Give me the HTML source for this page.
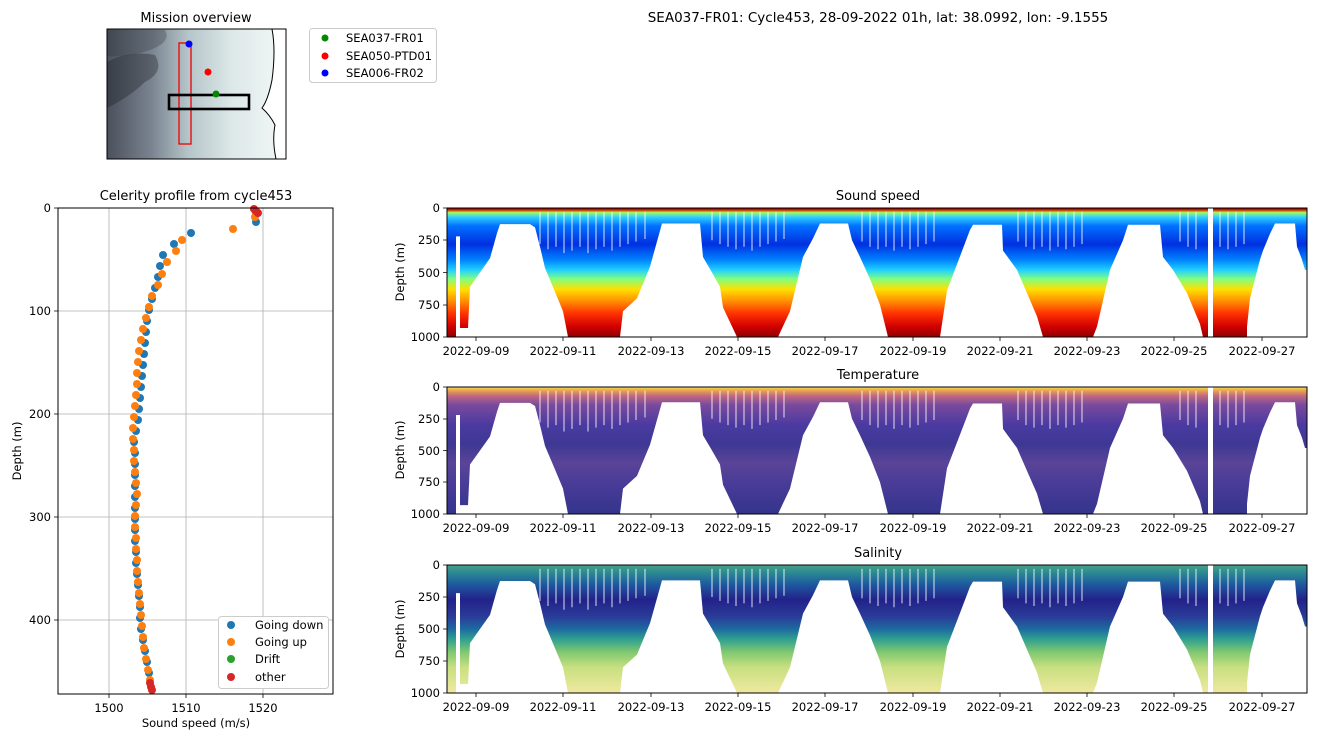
<!DOCTYPE html>
<html><head><meta charset="utf-8"><style>
html,body{margin:0;padding:0;background:#fff}
svg{display:block}
text{font-family:"DejaVu Sans","Liberation Sans",sans-serif;fill:#000}
</style></head><body>
<svg width="1320" height="742" viewBox="0 0 1320 742" xmlns="http://www.w3.org/2000/svg">
<defs>
<linearGradient id="gs" x1="0" y1="0" x2="0" y2="1">
<stop offset="0" stop-color="#7f0000"/><stop offset="0.015" stop-color="#d02000"/><stop offset="0.035" stop-color="#a0ff60"/><stop offset="0.07" stop-color="#30d0ff"/><stop offset="0.14" stop-color="#0070ff"/><stop offset="0.28" stop-color="#0030e0"/><stop offset="0.4" stop-color="#0080ff"/><stop offset="0.48" stop-color="#20d0ff"/><stop offset="0.55" stop-color="#80ff80"/><stop offset="0.63" stop-color="#ffe000"/><stop offset="0.72" stop-color="#ff9000"/><stop offset="0.82" stop-color="#ff3000"/><stop offset="0.92" stop-color="#d00000"/><stop offset="1" stop-color="#900000"/>
</linearGradient>
<linearGradient id="gt" x1="0" y1="0" x2="0" y2="1">
<stop offset="0" stop-color="#f0e050"/><stop offset="0.03" stop-color="#e8a050"/><stop offset="0.07" stop-color="#c06880"/><stop offset="0.14" stop-color="#7a4a9e"/><stop offset="0.3" stop-color="#4a3aa0"/><stop offset="0.45" stop-color="#3e3894"/><stop offset="0.6" stop-color="#5a4498"/><stop offset="0.75" stop-color="#4a3c98"/><stop offset="1" stop-color="#34348c"/>
</linearGradient>
<linearGradient id="gh" x1="0" y1="0" x2="0" y2="1">
<stop offset="0" stop-color="#48a088"/><stop offset="0.06" stop-color="#2a8a92"/><stop offset="0.15" stop-color="#1e5aa0"/><stop offset="0.27" stop-color="#22228a"/><stop offset="0.4" stop-color="#2a3a98"/><stop offset="0.5" stop-color="#1e6aa0"/><stop offset="0.58" stop-color="#30a090"/><stop offset="0.68" stop-color="#80c870"/><stop offset="0.8" stop-color="#c8e080"/><stop offset="1" stop-color="#f0e8a0"/>
</linearGradient>
<linearGradient id="gm" x1="0" y1="0" x2="1" y2="0">
<stop offset="0" stop-color="#4a505c"/><stop offset="0.25" stop-color="#7a8490"/><stop offset="0.45" stop-color="#b4c4c8"/><stop offset="0.7" stop-color="#dde8e8"/><stop offset="1" stop-color="#f4f8f8"/>
</linearGradient>
<g id="mask">
<polygon fill="#fff" points="447,1000 456,1000 456,220 460,220 460,930 468,930 470,610 480,500 490,390 497,195 500,125 530,125 535,150 540,300 545,465 555,650 563,800 568,1000 620,1000 623,800 637,700 650,455 662,120 700,120 703,380 712,500 720,610 723,770 737,1000 778,1000 790,800 803,380 813,235 820,120 848,120 852,250 860,380 870,550 880,750 888,1000 940,1000 947,640 960,375 970,170 973,130 1002,130 1003,330 1017,480 1027,660 1037,840 1043,1000 1093,1000 1097,920 1110,480 1123,250 1128,130 1160,130 1163,380 1173,480 1187,660 1200,900 1203,1000 1208,1000 1208,0 1213,0 1213,1000 1247,1000 1247,920 1250,700 1260,400 1263,330 1270,200 1275,120 1295,120 1297,300 1302,400 1305,480 1307,480 1307,1001 447,1001"/>
<g stroke="#fff" stroke-width="1.4" opacity="0.6">
<path d="M540 30V280M548 30V320M556 30V300M564 30V350M572 30V330M580 30V300M588 30V350M596 30V320M604 30V300M612 30V330M620 30V300M628 30V280M636 30V260M645 30V240M712 30V250M720 30V280M728 30V300M736 30V320M744 30V300M752 30V330M760 30V300M768 30V280M776 30V260M784 30V240M862 30V260M870 30V300M878 30V320M886 30V300M894 30V330M902 30V300M910 30V320M918 30V300M926 30V280M934 30V260M1018 30V260M1026 30V300M1034 30V320M1042 30V300M1050 30V330M1058 30V300M1066 30V320M1074 30V300M1082 30V280M1180 30V260M1188 30V300M1196 30V320M1220 30V300M1228 30V320M1236 30V300M1244 30V280"/>
</g>
</g>
</defs>

<text x="878" y="22" font-size="13.5" text-anchor="middle">SEA037-FR01: Cycle453, 28-09-2022 01h, lat: 38.0992, lon: -9.1555</text>

<text x="196" y="22" font-size="13" text-anchor="middle">Mission overview</text>
<rect x="107" y="29" width="179" height="130" fill="url(#gm)"/>
<path d="M107 62 Q130 50 155 55 Q165 72 145 82 Q128 98 107 108Z" fill="#1a1c22" opacity="0.35"/>
<path d="M107 30 L165 30 Q172 42 150 50 Q125 58 107 56Z" fill="#30343c" opacity="0.3"/>
<path d="M272 29 Q276 50 272 80 Q268 100 262 108 Q270 115 275 125 Q272 140 276 159 L286 159 L286 29Z" fill="#fff" stroke="#000" stroke-width="1"/>
<rect x="107" y="29" width="179" height="130" fill="none" stroke="#000" stroke-width="1"/>
<rect x="179" y="43" width="12" height="101" fill="none" stroke="#e00" stroke-width="1.3"/>
<rect x="169" y="95" width="80" height="14" fill="none" stroke="#000" stroke-width="2.6"/>
<circle cx="189" cy="44" r="3.5" fill="#00f"/><circle cx="208" cy="72" r="3.5" fill="#f00"/><circle cx="216" cy="94" r="3.5" fill="#080"/>
<rect x="309.5" y="28.5" width="127" height="54" rx="3" fill="#fff" stroke="#ccc"/>
<circle cx="325" cy="38" r="3.5" fill="#080"/><text x="346" y="42" font-size="11.5">SEA037-FR01</text>
<circle cx="325" cy="56" r="3.5" fill="#f00"/><text x="346" y="60" font-size="11.5">SEA050-PTD01</text>
<circle cx="325" cy="73" r="3.5" fill="#00f"/><text x="346" y="77" font-size="11.5">SEA006-FR02</text>

<text x="196" y="200" font-size="13" text-anchor="middle">Celerity profile from cycle453</text>
<g stroke="#b0b0b0" stroke-width="0.8">
<path d="M109 208V694M186 208V694M263 208V694M58 311H333M58 414H333M58 517H333M58 620H333"/>
</g>
<g fill="#1f77b4">
<circle cx="256" cy="212" r="4"/><circle cx="256" cy="222" r="4"/><circle cx="191" cy="233" r="4"/><circle cx="174" cy="244" r="4"/><circle cx="163" cy="255" r="4"/><circle cx="160" cy="266" r="4"/><circle cx="158" cy="277" r="4"/><circle cx="155" cy="288" r="4"/><circle cx="152" cy="299" r="4"/><circle cx="149" cy="310" r="4"/><circle cx="147" cy="321" r="4"/><circle cx="146" cy="332" r="4"/><circle cx="145" cy="343" r="4"/><circle cx="144" cy="354" r="4"/><circle cx="143" cy="365" r="4"/><circle cx="142" cy="376" r="4"/><circle cx="141" cy="387" r="4"/><circle cx="140" cy="398" r="4"/><circle cx="139" cy="409" r="4"/><circle cx="138" cy="420" r="4"/><circle cx="136" cy="431" r="4"/><circle cx="134" cy="442" r="4"/><circle cx="135" cy="453" r="4"/><circle cx="135" cy="464" r="4"/><circle cx="135" cy="475" r="4"/><circle cx="135" cy="486" r="4"/><circle cx="135" cy="497" r="4"/><circle cx="135" cy="508" r="4"/><circle cx="135" cy="519" r="4"/><circle cx="135" cy="530" r="4"/><circle cx="135" cy="541" r="4"/><circle cx="136" cy="552" r="4"/><circle cx="136" cy="563" r="4"/><circle cx="137" cy="574" r="4"/><circle cx="138" cy="585" r="4"/><circle cx="139" cy="596" r="4"/><circle cx="140" cy="607" r="4"/><circle cx="140" cy="618" r="4"/><circle cx="141" cy="629" r="4"/><circle cx="143" cy="640" r="4"/><circle cx="145" cy="651" r="4"/><circle cx="147" cy="662" r="4"/><circle cx="149" cy="673" r="4"/>
</g>
<g fill="#ff7f0e">
<circle cx="255" cy="217" r="4"/><circle cx="233" cy="229" r="4"/><circle cx="182" cy="240" r="4"/><circle cx="176" cy="251" r="4"/><circle cx="167" cy="262" r="4"/><circle cx="162" cy="274" r="4"/><circle cx="158" cy="285" r="4"/><circle cx="152" cy="296" r="4"/><circle cx="149" cy="307" r="4"/><circle cx="146" cy="318" r="4"/><circle cx="143" cy="329" r="4"/><circle cx="141" cy="340" r="4"/><circle cx="139" cy="351" r="4"/><circle cx="138" cy="362" r="4"/><circle cx="137" cy="373" r="4"/><circle cx="137" cy="384" r="4"/><circle cx="136" cy="395" r="4"/><circle cx="135" cy="406" r="4"/><circle cx="134" cy="417" r="4"/><circle cx="133" cy="428" r="4"/><circle cx="133" cy="439" r="4"/><circle cx="134" cy="450" r="4"/><circle cx="134" cy="461" r="4"/><circle cx="135" cy="472" r="4"/><circle cx="136" cy="483" r="4"/><circle cx="137" cy="494" r="4"/><circle cx="136" cy="505" r="4"/><circle cx="135" cy="516" r="4"/><circle cx="135" cy="527" r="4"/><circle cx="136" cy="538" r="4"/><circle cx="136" cy="549" r="4"/><circle cx="137" cy="560" r="4"/><circle cx="137" cy="571" r="4"/><circle cx="138" cy="582" r="4"/><circle cx="139" cy="593" r="4"/><circle cx="140" cy="604" r="4"/><circle cx="141" cy="615" r="4"/><circle cx="142" cy="626" r="4"/><circle cx="143" cy="637" r="4"/><circle cx="144" cy="648" r="4"/><circle cx="146" cy="659" r="4"/><circle cx="148" cy="670" r="4"/><circle cx="150" cy="680" r="4"/>
</g>
<g fill="#d62728">
<circle cx="254" cy="209" r="4"/><circle cx="256" cy="211" r="4"/><circle cx="258" cy="213" r="4"/><circle cx="150" cy="683" r="4"/><circle cx="151" cy="687" r="4"/><circle cx="152" cy="690" r="4"/>
</g>
<rect x="58" y="208" width="275" height="486" fill="none" stroke="#000" stroke-width="1"/>
<g stroke="#000" stroke-width="0.8"><path d="M109 694v4M186 694v4M263 694v4M58 208h-4M58 311h-4M58 414h-4M58 517h-4M58 620h-4"/></g>
<g font-size="11.5" text-anchor="middle"><text x="109" y="712">1500</text><text x="186" y="712">1510</text><text x="263" y="712">1520</text></g>
<g font-size="11.5" text-anchor="end"><text x="51" y="212">0</text><text x="51" y="315">100</text><text x="51" y="418">200</text><text x="51" y="521">300</text><text x="51" y="624">400</text></g>
<text x="196" y="727" font-size="11.5" text-anchor="middle">Sound speed (m/s)</text>
<text transform="translate(21,451) rotate(-90)" font-size="11.5" text-anchor="middle">Depth (m)</text>
<rect x="218.5" y="616.5" width="110" height="72" rx="3" fill="#fff" stroke="#ccc"/>
<circle cx="231" cy="625" r="4" fill="#1f77b4"/><text x="255" y="629" font-size="11.5">Going down</text>
<circle cx="231" cy="642" r="4" fill="#ff7f0e"/><text x="255" y="646" font-size="11.5">Going up</text>
<circle cx="231" cy="659" r="4" fill="#2ca02c"/><text x="255" y="663" font-size="11.5">Drift</text>
<circle cx="231" cy="677" r="4" fill="#d62728"/><text x="255" y="681" font-size="11.5">other</text>

<g>
<text x="878" y="200" font-size="13" text-anchor="middle">Sound speed</text>
<rect x="447" y="208" width="860" height="129" fill="url(#gs)"/>
<use href="#mask" transform="translate(0,208) scale(1,0.129)"/>
<rect x="447" y="208" width="860" height="129" fill="none" stroke="#000" stroke-width="1"/>
<g stroke="#000" stroke-width="0.8"><path d="M476 337v4M563 337v4M651 337v4M738 337v4M825 337v4M913 337v4M1000 337v4M1087 337v4M1174 337v4M1262 337v4M447 208h-4M447 240h-4M447 272.5h-4M447 305h-4M447 337h-4"/></g>
<g font-size="11.5" text-anchor="middle"><text x="476" y="355">2022-09-09</text><text x="563" y="355">2022-09-11</text><text x="651" y="355">2022-09-13</text><text x="738" y="355">2022-09-15</text><text x="825" y="355">2022-09-17</text><text x="913" y="355">2022-09-19</text><text x="1000" y="355">2022-09-21</text><text x="1087" y="355">2022-09-23</text><text x="1174" y="355">2022-09-25</text><text x="1262" y="355">2022-09-27</text></g>
<g font-size="11.5" text-anchor="end"><text x="440" y="212">0</text><text x="440" y="244">250</text><text x="440" y="277">500</text><text x="440" y="309">750</text><text x="440" y="341">1000</text></g>
<text transform="translate(404,272) rotate(-90)" font-size="11.5" text-anchor="middle">Depth (m)</text>
</g>
<g>
<text x="878" y="379" font-size="13" text-anchor="middle">Temperature</text>
<rect x="447" y="387" width="860" height="127" fill="url(#gt)"/>
<use href="#mask" transform="translate(0,387) scale(1,0.127)"/>
<rect x="447" y="387" width="860" height="127" fill="none" stroke="#000" stroke-width="1"/>
<g stroke="#000" stroke-width="0.8"><path d="M476 514v4M563 514v4M651 514v4M738 514v4M825 514v4M913 514v4M1000 514v4M1087 514v4M1174 514v4M1262 514v4M447 387h-4M447 419h-4M447 450.5h-4M447 482h-4M447 514h-4"/></g>
<g font-size="11.5" text-anchor="middle"><text x="476" y="532">2022-09-09</text><text x="563" y="532">2022-09-11</text><text x="651" y="532">2022-09-13</text><text x="738" y="532">2022-09-15</text><text x="825" y="532">2022-09-17</text><text x="913" y="532">2022-09-19</text><text x="1000" y="532">2022-09-21</text><text x="1087" y="532">2022-09-23</text><text x="1174" y="532">2022-09-25</text><text x="1262" y="532">2022-09-27</text></g>
<g font-size="11.5" text-anchor="end"><text x="440" y="391">0</text><text x="440" y="423">250</text><text x="440" y="455">500</text><text x="440" y="486">750</text><text x="440" y="518">1000</text></g>
<text transform="translate(404,450) rotate(-90)" font-size="11.5" text-anchor="middle">Depth (m)</text>
</g>
<g>
<text x="878" y="557" font-size="13" text-anchor="middle">Salinity</text>
<rect x="447" y="565" width="860" height="128" fill="url(#gh)"/>
<use href="#mask" transform="translate(0,565) scale(1,0.128)"/>
<rect x="447" y="565" width="860" height="128" fill="none" stroke="#000" stroke-width="1"/>
<g stroke="#000" stroke-width="0.8"><path d="M476 693v4M563 693v4M651 693v4M738 693v4M825 693v4M913 693v4M1000 693v4M1087 693v4M1174 693v4M1262 693v4M447 565h-4M447 597h-4M447 629h-4M447 661h-4M447 693h-4"/></g>
<g font-size="11.5" text-anchor="middle"><text x="476" y="711">2022-09-09</text><text x="563" y="711">2022-09-11</text><text x="651" y="711">2022-09-13</text><text x="738" y="711">2022-09-15</text><text x="825" y="711">2022-09-17</text><text x="913" y="711">2022-09-19</text><text x="1000" y="711">2022-09-21</text><text x="1087" y="711">2022-09-23</text><text x="1174" y="711">2022-09-25</text><text x="1262" y="711">2022-09-27</text></g>
<g font-size="11.5" text-anchor="end"><text x="440" y="569">0</text><text x="440" y="601">250</text><text x="440" y="633">500</text><text x="440" y="665">750</text><text x="440" y="697">1000</text></g>
<text transform="translate(404,629) rotate(-90)" font-size="11.5" text-anchor="middle">Depth (m)</text>
</g>
</svg>
</body></html>
